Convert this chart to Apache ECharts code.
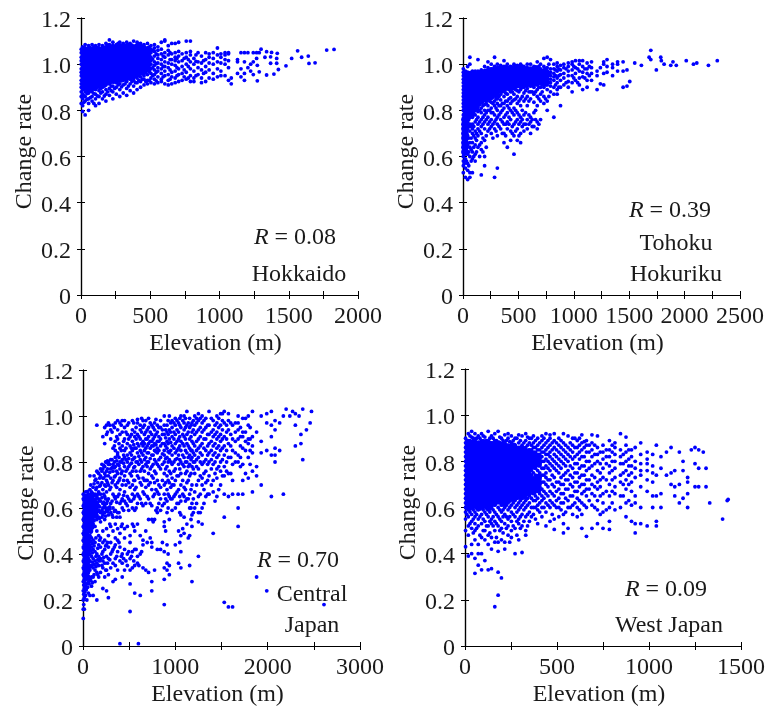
<!DOCTYPE html>
<html><head><meta charset="utf-8">
<style>html,body{margin:0;padding:0;background:#fff}#c{width:768px;height:708px}</style>
<script src="https://cdn.jsdelivr.net/npm/echarts@6/dist/echarts.min.js"></script>
</head><body><div id="c"></div>
<script>
// Each row: [elevation, change rate, change rate, ...].
// *Columns/*Extra: ordinary dots. *Core: larger marks that only fill the areas where the reference's dots
// overlap into solid blue; they approximate the shape of those areas and are not individual observations.
const hokkaidoColumns=[
[2,.83,.86,.88,.9,.915,.93,.95,.965,.98,1,1.015,1.03,1.05,1.065],
[12,.795,.82,.85,.87,.89,.905,.925,.94,.96,.975,.99,1.01,1.025,1.04,1.06,1.075],
[30,.78,.84,.86,.88,.9,.915,.93,.95,.97,.985,1,1.02,1.035,1.05,1.07,1.085],
[55,.8,.83,.85,.875,.89,.91,.925,.945,.96,.98,.995,1.01,1.03,1.045,1.06,1.08],
[80,.84,.86,.88,.9,.92,.935,.95,.97,.985,1,1.02,1.035,1.05,1.065,1.085],
[105,.82,.85,.87,.89,.91,.93,.945,.96,.98,.995,1.01,1.03,1.045,1.06,1.08],
[130,.83,.86,.885,.905,.925,.94,.955,.97,.99,1.005,1.02,1.04,1.055,1.07,1.085],
[155,.85,.88,.9,.92,.935,.95,.965,.98,1,1.015,1.03,1.05,1.065,1.08],
[180,.84,.87,.89,.91,.93,.945,.96,.975,.99,1.01,1.025,1.04,1.06,1.075,1.09],
[205,.865,.895,.915,.935,.95,.97,.985,1,1.02,1.035,1.05,1.07,1.085,1.105],
[230,.85,.88,.905,.925,.945,.96,.975,.99,1.01,1.025,1.04,1.06,1.08,1.095],
[255,.87,.9,.92,.94,.955,.97,.985,1,1.015,1.03,1.05,1.065,1.085],
[280,.86,.89,.915,.935,.95,.965,.98,.995,1.01,1.03,1.045,1.06,1.08,1.095],
[305,.875,.91,.93,.945,.96,.98,.995,1.01,1.025,1.04,1.055,1.07,1.09],
[330,.865,.895,.925,.94,.955,.97,.99,1.005,1.02,1.035,1.05,1.065,1.08,1.095],
[355,.885,.915,.935,.95,.97,.985,1,1.015,1.03,1.045,1.06,1.075,1.09],
[380,.875,.905,.93,.945,.96,.98,.995,1.01,1.025,1.04,1.055,1.07,1.1],
[405,.89,.92,.94,.955,.975,.99,1.005,1.02,1.035,1.05,1.065,1.08,1.095],
[430,.9,.925,.945,.965,.98,.995,1.01,1.03,1.045,1.06,1.075,1.09],
[455,.91,.935,.95,.97,.985,1,1.02,1.035,1.05,1.065,1.085],
[480,.915,.93,.955,.975,.99,1.01,1.025,1.04,1.055,1.07,1.09],
[505,.92,.94,.96,.98,1,1.015,1.03,1.05,1.065,1.08],
[530,.915,.935,.955,.975,.995,1.01,1.035,1.055,1.07,1.085],
[555,.92,.945,.97,.985,1.005,1.025,1.04,1.06,1.075],
[580,.925,.935,.96,.98,1,1.02,1.045,1.065,1.095],
[605,.915,.95,.97,.99,1.01,1.03,1.05,1.1,1.105],
[630,.91,.93,.955,.985,1.005,1.04,1.06,1.08],
[655,.915,.945,.965,1,1.02,1.045,1.09],
[680,.92,.94,.97,.995,1.015,1.05,1.03,1.09],
[705,.925,.955,.98,1.01,1.035,1.055,1.095],
[730,.93,.96,.99,1.015,1.045],
[760,.935,.965,1,1.03,1.05,1.1],
[790,.925,.95,.98,1.01,1.04,1.055,1.1],
[815,.925,.94,.97,1,1.025],
[845,.955,.985,1.01,1.05],
[870,.92,.94,.975,1.005,1.035],
[900,.925,.965,.99,1.02,1.05],
[925,.94,.975,1.005,1.03,1.045],
[955,.935,.96,1,1.025,1.05],
[985,.945,.98,1.01,1.04,1.07],
[1010,.95,.97,1.005,1.03,1.045],
[1040,.95,1,1.02,1.04,1.05],
[1065,.93,.985,1.015,1.045,1.05],
[1085,.915,.94],
[1130,.96,1.01,1.02],
[1155,.945,.98,1.05],
[1180,.93,.96,1.01,1.05],
[1205,.985,1.05],
[1225,.97,1],
[1244,.955,1.01,1.05],
[1268,1.025,1.05],
[1273,.928,.995],
[1287,.967,1.05],
[1300,1.065],[1328,1.03],[1340,.953,1.054],[1369,1.004,1.032],[1376,1.051],[1393,.957],[1413,1.004,1.025],[1417,1.047],[1425,.977],[1480,.993],[1521,1.025],[1564,1.058],[1593,1.03],[1641,1.035],[1646,1.003],[1690,1.006],[1774,1.061],[1827,1.064]
];
const hokkaidoExtra=[
[21,.835,.862,.895,.92,.943,.972,.993,1.018,1.042,1.068],
[43,.848,.872,.898,.922,.957,.978,1.008,1.028,1.056],
[67,.855,.888,.915,.938,.965,.988,1.022,1.052,1.072],
[93,.83,.872,.895,.928,.96,.992,1.012,1.042,1.075],
[118,.862,.9,.92,.95,.975,1.002,1.025,1.05,1.072],
[143,.875,.895,.93,.962,.985,1.012,1.035,1.062],
[168,.862,.905,.94,.958,.99,1.022,1.045,1.07],
[193,.88,.925,.955,.982,1.005,1.032,1.052,1.082],
[218,.885,.905,.942,.962,.992,1.012,1.045,1.078],
[243,.895,.935,.968,.995,1.022,1.052,1.072],
[268,.91,.948,.975,1.008,1.038,1.058,1.09],
[293,.902,.928,.958,.988,1.018,1.05,1.072],
[318,.915,.952,.985,1.012,1.045,1.075],
[343,.905,.945,.962,.995,1.028,1.056,1.085],
[368,.925,.958,.992,1.022,1.052,1.082],
[393,.92,.952,.985,1.015,1.048,1.078],
[418,.93,.965,.998,1.028,1.058,1.088],
[443,.935,.958,.99,1.022,1.052,1.07],
[468,.925,.962,.995,1.03,1.06],
[493,.93,.968,1.005,1.035,1.075],
[518,.95,.985,1.022,1.06],
[543,.928,.965,1.002,1.045],
[593,.945,.99,1.035],
[643,.935,.975,1.02,1.05],
[693,.95,.985,1.025],
[745,.945,.975,1.025],
[775,.94,.99,1.02],
[830,.95,1.012,1.04],
[885,.96,1.015]
];
const hokkaidoCore=[
[25,.9,.92,.94,.96,.98,1,1.02,1.04,1.06],
[60,.89,.91,.935,.955,.98,1,1.02,1.04,1.06],
[95,.9,.92,.94,.96,.98,1,1.02,1.04,1.06],
[130,.91,.93,.955,.975,.995,1.02,1.04,1.06],
[165,.915,.94,.96,.98,1,1.02,1.04,1.065],
[200,.925,.945,.965,.985,1.005,1.025,1.045,1.07],
[235,.93,.95,.97,.99,1.01,1.03,1.05,1.07],
[270,.935,.955,.975,.995,1.015,1.035,1.055,1.07],
[305,.94,.96,.98,1,1.02,1.04,1.06,1.075],
[340,.945,.965,.985,1.005,1.025,1.045,1.065],
[375,.95,.97,.99,1.01,1.03,1.05,1.07],
[410,.96,.98,1,1.02,1.04,1.06,1.075],
[445,.97,.99,1.01,1.03,1.05,1.07],
[480,.98,1,1.02,1.04,1.06]
];
const tohokuColumns=[
[3,.53,.56,.58,.6,.62,.64,.66,.68,.7,.72,.74,.76,.78,.8,.815,.83,.845,.86,.875,.89,.905,.92,.935,.95,.965,.98],
[22,.51,.55,.59,.63,.67,.7,.73,.75,.77,.79,.805,.82,.835,.85,.865,.88,.895,.91,.925,.94,.955,.97],
[42,.5,.54,.57,.61,.65,.69,.72,.75,.78,.8,.815,.83,.845,.86,.875,.89,.905,.92,.935,.95,.965,.99],
[62,.51,.53,.6,.64,.66,.71,.74,.77,.79,.81,.825,.84,.855,.87,.885,.9,.915,.93,.945,.96,1.0,1.03],
[85,.53,.59,.62,.66,.7,.72,.74,.77,.8,.815,.83,.845,.86,.875,.89,.905,.92,.935,.95,.97],
[110,.58,.61,.65,.68,.71,.75,.78,.8,.82,.835,.85,.865,.88,.895,.91,.925,.94,.955,.97],
[135,.64,.69,.72,.74,.77,.795,.815,.83,.85,.865,.88,.895,.91,.925,.94,.955,.97,1.02],
[165,.52,.63,.66,.7,.73,.76,.79,.81,.835,.85,.87,.885,.9,.915,.93,.945,.96,.975],
[195,.6,.56,.67,.72,.75,.78,.8,.825,.845,.865,.88,.895,.91,.925,.94,.955,.97,.99],
[225,.71,.74,.77,.8,.82,.845,.86,.88,.895,.91,.925,.94,.955,.97,.985,1.01],
[255,.7,.73,.76,.79,.81,.835,.855,.875,.89,.905,.92,.935,.95,.965,.98,1],
[285,.51,.72,.75,.78,.82,.84,.865,.88,.9,.915,.93,.945,.96,.975,.99,1.03],
[310,.55,.69,.74,.77,.8,.83,.85,.875,.895,.91,.925,.94,.955,.97,.985,1],
[340,.72,.76,.79,.82,.845,.87,.89,.905,.92,.935,.95,.965,.98,.995],
[370,.66,.7,.74,.77,.81,.83,.86,.885,.9,.915,.93,.945,.96,.975,.99,1.015],
[400,.64,.72,.75,.79,.82,.84,.87,.895,.91,.925,.94,.955,.97,.985,1],
[430,.67,.71,.76,.8,.83,.855,.88,.9,.915,.93,.945,.96,.975,.99],
[460,.61,.69,.74,.78,.81,.845,.87,.895,.91,.925,.94,.955,.97,.985,1],
[490,.67,.72,.76,.79,.83,.86,.885,.905,.92,.935,.95,.965,.98,.995],
[520,.66,.7,.75,.77,.82,.85,.89,.91,.925,.94,.955,.97,.985,1],
[550,.71,.74,.78,.84,.875,.9,.915,.93,.945,.96,.975,.99],
[580,.72,.76,.82,.86,.895,.91,.925,.94,.955,.97,.985,1],
[610,.7,.75,.77,.85,.88,.905,.92,.935,.95,.965,.98,1],
[640,.73,.79,.835,.87,.9,.915,.93,.945,.96,.975,.99],
[670,.72,.75,.82,.86,.89,.91,.925,.94,.955,.97,.985,1.01],
[700,.76,.84,.87,.9,.92,.935,.95,.965,.98,1],
[730,.83,.86,.9,.915,.93,.945,.96,.975,.99,1.025],
[760,.8,.84,.89,.91,.925,.94,.955,.97,.985,1.03],
[790,.88,.905,.92,.935,.95,.965,.98,1.02],
[820,.77,.87,.9,.93,.945,.96,.98,1],
[850,.87,.89,.92,.94,.97,.99,1.005],
[880,.82,.9,.93,.955,.975,.995],
[910,.91,.94,.96,.985,1],
[950,.9,.925,.95,.97,.99,1.005],
[985,.88,.92,.95,.975,1,1.01],
[1015,.93,.96,.985,1.015],
[1050,.91,.94,.97,1,1.015],
[1080,.89,.945,.965,.99,1.015],
[1120,.9,.93,.96,.98,1.005],
[1160,.93,.96,.985,1.01],
[1210,.89,.95,.97],
[1240,.915,.985],
[1270,.91,.96,1,1.01],
[1300,.965,.99,1.02],
[1350,.95,.985,1],
[1395,.97,1,1.01],
[1445,.9,.97,1.01],
[1480,.905,.975],
[1505,.925],[1550,1.005],[1610,.995],[1680,1.03],[1695,1.06,1.02],[1745,.975],[1785,1.03],[1790,1.015],[1815,1],[1875,.995],[1895,1.01],[1925,.995],[2015,1.015],[2080,1],[2110,1.005],[2215,.995],[2295,1.015]
];
const tohokuExtra=[
[12,.57,.61,.65,.69,.71,.75,.785,.81,.84,.87,.9,.93,.96],
[32,.58,.62,.66,.71,.74,.79,.825,.855,.885,.915,.945],
[52,.56,.62,.68,.73,.76,.805,.835,.865,.895,.925,.955],
[74,.58,.63,.68,.73,.78,.82,.85,.88,.91,.94],
[97,.6,.64,.69,.73,.79,.825,.855,.885,.915,.945,.965],
[122,.62,.67,.7,.76,.805,.84,.87,.9,.93,.96],
[150,.6,.65,.71,.75,.8,.825,.86,.89,.92,.95],
[180,.62,.68,.74,.77,.82,.85,.88,.91,.94],
[210,.64,.69,.76,.79,.83,.87,.9,.93,.96],
[240,.72,.75,.8,.84,.875,.905,.935,.965],
[270,.68,.74,.79,.83,.86,.89,.92,.95,.98],
[298,.71,.76,.81,.85,.885,.91,.94,.97],
[325,.73,.78,.82,.86,.89,.925,.955,.985],
[355,.7,.75,.8,.83,.88,.915,.945,.975],
[385,.69,.74,.78,.84,.875,.91,.94,.97],
[415,.74,.77,.81,.85,.89,.92,.95,.98],
[445,.7,.73,.79,.84,.88,.91,.94,.97],
[475,.71,.75,.8,.85,.89,.915,.945,.975],
[505,.69,.74,.78,.84,.88,.92,.95,.98],
[535,.73,.76,.8,.86,.9,.93,.96,.99],
[565,.74,.79,.85,.885,.92,.95,.98],
[595,.74,.78,.84,.88,.915,.945,.975],
[625,.73,.76,.88,.91,.94,.97],
[655,.76,.8,.88,.915,.945,.975],
[685,.74,.85,.9,.93,.96,.99],
[715,.88,.91,.94,.97],
[745,.85,.91,.95,.98],
[775,.86,.92,.96,1],
[835,.91,.95,.975],
[865,.9,.95,.98],
[930,.92,.98],[1000,.94,.99],[1035,.92,.98],[1100,.94,.98],[1140,.95,.99]
];
const tohokuCore=[
[18,.62,.64,.66,.68,.7,.72,.74,.76],
[30,.78,.8,.82,.84,.86,.88,.9,.92,.94,.955],
[70,.78,.8,.82,.84,.86,.88,.9,.92,.94,.955],
[115,.81,.83,.85,.87,.89,.91,.93,.95],
[160,.84,.86,.88,.9,.92,.94,.96],
[205,.85,.87,.89,.91,.93,.95,.965],
[250,.86,.88,.9,.92,.94,.96,.97],
[295,.87,.89,.91,.93,.95,.97],
[340,.89,.91,.93,.95,.97,.98],
[385,.9,.92,.94,.96,.98],
[430,.9,.92,.94,.96,.98],
[475,.91,.93,.95,.97,.985],
[520,.91,.93,.95,.97,.985],
[565,.915,.935,.955,.975],
[610,.915,.935,.955,.975],
[655,.92,.94,.96,.98],
[700,.925,.945,.965],
[745,.93,.95,.965]
];
const centralColumns=[
[3,.12,.16,.2,.24,.28,.31,.34,.37,.4,.43,.46,.49,.52,.55,.58,.61,.64,.66],
[14,.16,.21,.25,.29,.32,.35,.38,.41,.44,.47,.5,.53,.56,.59,.62,.65],
[28,.22,.26,.29,.33,.36,.39,.42,.45,.48,.51,.54,.57,.6,.63,.67],
[42,.2,.27,.31,.34,.37,.4,.43,.46,.49,.52,.55,.58,.61,.64],
[58,.23,.28,.32,.35,.38,.41,.44,.47,.5,.53,.56,.59,.62,.66],
[75,.22,.29,.33,.37,.4,.44,.48,.51,.55,.58,.6,.63,.68,.74],
[92,.26,.3,.35,.39,.43,.47,.5,.54,.57,.6,.62,.65,.67],
[110,.22,.3,.34,.38,.42,.46,.53,.56,.59,.61,.64,.69],
[130,.28,.33,.37,.41,.45,.52,.58,.6,.63,.66,.72],
[150,.2,.32,.36,.4,.5,.55,.57,.6,.62,.65,.69,.76,.96],
[170,.3,.35,.39,.44,.48,.56,.59,.61,.64,.67,.75],
[190,.32,.38,.43,.47,.54,.58,.63,.66,.7,.74,.77],
[215,.25,.34,.37,.41,.45,.5,.57,.6,.62,.68,.73,.77,.91],
[235,.3,.36,.42,.46,.55,.58,.61,.65,.7,.75,.78,.88,.95],
[255,.24,.33,.39,.44,.51,.59,.62,.67,.72,.76,.8,.92,.96],
[275,.21,.31,.38,.43,.48,.57,.6,.64,.7,.74,.79,.8,.97],
[300,.34,.4,.45,.52,.58,.62,.69,.73,.77,.81,.9,.94],
[325,.28,.36,.42,.5,.56,.6,.66,.72,.76,.79,.86,.96],
[350,.29,.35,.38,.44,.47,.53,.59,.64,.7,.74,.78,.82,.85,.89,.97],
[375,.33,.41,.46,.51,.58,.65,.71,.75,.79,.83,.84,.9,.94,.98],
[400,.37,.43,.49,.56,.62,.68,.73,.77,.8,.86,.92,.97],
[425,.3,.36,.4,.53,.6,.64,.7,.76,.81,.87,.93,.98],
[450,.33,.42,.47,.51,.63,.67,.74,.78,.82,.85,.9,.95,.98],
[480,.35,.4,.52,.61,.65,.72,.77,.8,.83,.88,.92,.96],
[510,.15,.27,.33,.38,.45,.48,.63,.69,.75,.79,.84,.87,.91],
[535,.34,.41,.53,.6,.66,.7,.76,.81,.85,.89,.94,.98],
[560,.23,.35,.42,.5,.59,.65,.68,.72,.78,.82,.86,.91,.93],
[590,.36,.39,.53,.62,.66,.74,.8,.84,.88,.92,.97,.985],
[620,.22,.4,.48,.64,.71,.76,.81,.85,.9,.94,.96],
[650,.34,.44,.46,.61,.67,.73,.78,.83,.87,.89,.95,.98],
[680,.33,.5,.62,.69,.72,.79,.82,.86,.9,.93,.98],
[710,.32,.55,.64,.7,.75,.8,.84,.88,.91,.95,.99],
[745,.24,.28,.43,.45,.55,.61,.68,.74,.78,.83,.87,.89,.92,.96],
[775,.33,.55,.66,.71,.76,.81,.85,.88,.91,.94,.97],
[805,.42,.58,.6,.67,.72,.79,.84,.86,.89,.93,.96],
[840,.42,.59,.64,.69,.77,.82,.87,.9,.95,.98],
[880,.18,.34,.29,.41,.52,.54,.62,.66,.7,.75,.8,.83,.85,.88,.92,.96,1],
[910,.33,.36,.44,.58,.63,.68,.74,.78,.82,.86,.89,.93,.96],
[935,.31,.35,.55,.65,.71,.76,.81,.84,.9,.94,1],
[965,.59,.64,.7,.73,.79,.83,.87,.91,.95,.98],
[1000,.44,.6,.66,.72,.77,.81,.84,.88,.92,.96,.99],
[1035,.36,.5,.62,.68,.74,.79,.83,.86,.9,.93,.97],
[1060,.34,.41,.48,.57,.63,.7,.75,.8,.85,.89,.95,1],
[1095,.49,.56,.65,.69,.78,.82,.87,.91,.94,.97,1],
[1125,.53,.64,.71,.76,.8,.84,.88,.92,.96,1.02],
[1155,.35,.48,.6,.66,.74,.79,.83,.86,.9,.95,.99],
[1180,.28,.52,.57,.62,.7,.78,.82,.85,.89,.93,.97],
[1210,.6,.67,.75,.8,.83,.87,.92,.96,1],
[1250,.39,.54,.58,.65,.72,.77,.82,.86,.9,.94,.98,1.01],
[1290,.53,.6,.7,.73,.79,.83,.88,.93,.97,1],
[1330,.65,.71,.76,.81,.85,.9,.95,.99],
[1365,.66,.74,.8,.84,.88,.92,.96,1.02],
[1410,.49,.67,.72,.79,.83,.87,.91,.94,.98],
[1450,.65,.73,.77,.82,.86,.9,.93,.97,1],
[1490,.7,.76,.8,.85,.89,.92,.96,1.01],
[1530,.19,.56,.66,.74,.78,.83,.87,.91,.97,1.02],
[1575,.17,.65,.75,.82,.88,.94,.98,1.01],
[1620,.17,.66,.72,.79,.85,.9,.96],
[1680,.6,.52,.66,.8,.83,.9,.94,.97,1],
[1730,.66,.72,.79,.86,.91,.93,.99],
[1790,.73,.82,.88,.9,.96,1],
[1835,.67,.76,.84,.87,.91,1.02],
[1880,.3,.74,.78,.93],
[1930,.7,.84,.89,1],
[1990,.24,.85,.97,1.01],
[2040,.65,.83,.96,.91,1.02],
[2080,.8,.83,.86,.94,.98],
[2130,.85,.97],[2170,.66,1],[2200,1.03],[2240,1],[2270,1.02],[2300,.87,.96,1.01],[2340,1],[2360,.88,.92],[2380,.81,1.03],[2420,.94],[2460,.97],[2475,1.02],[2610,.18],
[400,.01],[600,.01]
];
const centralExtra=[
[8,.18,.225,.265,.305,.335,.365,.395,.425,.455,.485,.515,.545,.575,.605,.635],
[21,.235,.275,.315,.345,.375,.405,.435,.465,.495,.525,.555,.585,.615,.645],
[35,.245,.305,.355,.385,.415,.445,.475,.505,.535,.565,.595,.625,.655],
[50,.255,.3,.345,.395,.425,.455,.515,.575,.605,.635,.672],
[66,.27,.335,.365,.425,.465,.525,.565,.615,.645],
[84,.285,.345,.415,.455,.495,.535,.585,.625,.66,.7],
[101,.275,.365,.405,.445,.515,.575,.605,.635,.665],
[120,.31,.355,.435,.545,.595,.625,.655,.705,.74],
[140,.345,.39,.47,.565,.605,.64,.68,.725],
[160,.31,.375,.425,.585,.625,.66,.71,.755],
[180,.37,.46,.555,.605,.635,.695,.73],
[205,.35,.4,.56,.59,.645,.71,.76,.79],
[225,.385,.58,.625,.66,.73,.785],
[245,.33,.435,.565,.6,.64,.695,.74,.8],
[265,.36,.45,.585,.63,.71,.77,.805,.93],
[290,.375,.53,.595,.605,.68,.755,.79,.96],
[315,.41,.57,.63,.71,.775,.81,.93],
[340,.43,.585,.65,.735,.775,.8,.87,.95],
[365,.39,.56,.625,.69,.76,.805,.91],
[390,.45,.58,.66,.72,.785,.82,.88],
[415,.39,.52,.63,.75,.8,.85,.96],
[440,.38,.59,.655,.72,.795,.83,.89],
[465,.37,.62,.7,.76,.81,.86,.93],
[495,.41,.59,.64,.71,.78,.815,.9,.97],
[525,.39,.63,.74,.795,.83,.86,.92],
[550,.37,.52,.64,.72,.775,.815,.875,.97],
[575,.42,.6,.69,.76,.8,.86,.9,.95],
[605,.35,.65,.73,.79,.825,.87,.91],
[635,.41,.62,.7,.77,.8,.84,.88,.93,.99],
[665,.66,.72,.76,.81,.85,.88,.92,.96],
[695,.45,.65,.72,.78,.8,.84,.87,.9,.94],
[728,.47,.62,.71,.77,.815,.86,.89,.93,.97],
[760,.54,.65,.73,.79,.83,.87,.9,.95],
[790,.59,.68,.75,.8,.845,.875,.92,.985],
[822,.62,.66,.7,.78,.81,.85,.89,.91,.95],
[860,.45,.61,.72,.79,.835,.88,.92,.94],
[895,.5,.64,.71,.77,.815,.87,.905,.94],
[922,.4,.6,.66,.72,.8,.845,.88,.92,.98],
[950,.64,.69,.75,.8,.85,.885,.93,.97],
[985,.65,.7,.76,.8,.86,.9,.93,.97],
[1018,.62,.67,.74,.815,.85,.89,.94,.98],
[1048,.45,.58,.65,.77,.81,.87,.91,.96,.99],
[1080,.51,.66,.72,.79,.83,.88,.92,.98],
[1110,.63,.68,.75,.8,.85,.9,.95,.99],
[1140,.47,.64,.72,.78,.82,.87,.93,.97],
[1170,.55,.6,.68,.75,.81,.85,.91,.96],
[1195,.58,.64,.77,.8,.84,.88,.94,.98],
[1230,.62,.7,.78,.81,.85,.89,.93,.97,.99],
[1270,.58,.66,.74,.8,.84,.87,.91,.95,.99],
[1310,.62,.68,.75,.8,.86,.9,.94,.98],
[1350,.66,.72,.79,.83,.87,.92,.96],
[1390,.7,.77,.81,.85,.89,.93,.99],
[1430,.63,.75,.8,.84,.88,.92,.96],
[1470,.68,.78,.83,.87,.91,.95,.99],
[1510,.74,.81,.86,.9,.94,.98,1.01],
[1555,.76,.8,.85,.9,.93,.96],
[1600,.75,.82,.87,.92,.97],
[1650,.8,.84,.89,.93,.97],
[1705,.78,.82,.87,.91,.95],
[1760,.75,.85,.89,.93,.99],
[1810,.79,.85,.9,.95]
];
const centralCore=[
[38,.3,.325,.35,.375,.4,.425,.45,.475,.5,.525,.55,.575,.6,.625,.64],
[85,.52,.545,.57,.595,.62,.64],
[125,.57,.6,.62]
];
const westColumns=[
[3,.43,.5,.55,.58,.6,.62,.64,.66,.68,.7,.72,.74,.76,.78,.8,.82,.84,.86,.88,.9],
[18,.39,.48,.52,.56,.59,.61,.63,.65,.67,.69,.71,.73,.75,.77,.79,.81,.83,.85,.87,.89,.92],
[36,.4,.44,.51,.54,.57,.6,.62,.64,.66,.68,.7,.72,.74,.76,.78,.8,.82,.84,.86,.88,.905,.93],
[54,.315,.38,.46,.5,.53,.56,.58,.61,.63,.65,.67,.69,.71,.73,.75,.77,.79,.81,.83,.85,.87,.89,.92],
[72,.35,.4,.44,.52,.55,.59,.62,.64,.66,.68,.7,.72,.74,.76,.78,.8,.82,.84,.86,.88,.91],
[90,.33,.4,.47,.53,.57,.6,.63,.65,.67,.69,.71,.73,.75,.77,.79,.81,.83,.85,.87,.89,.92],
[108,.37,.46,.5,.54,.58,.61,.64,.66,.68,.7,.72,.74,.76,.78,.8,.82,.84,.86,.88,.905],
[126,.33,.44,.48,.52,.56,.59,.62,.65,.67,.69,.71,.73,.75,.77,.79,.81,.83,.85,.87,.89,.93],
[144,.335,.42,.47,.53,.55,.6,.63,.66,.68,.7,.72,.74,.76,.78,.8,.82,.84,.86,.88,.91],
[162,.17,.45,.5,.54,.58,.61,.64,.67,.69,.71,.73,.75,.77,.79,.81,.83,.85,.87,.89,.92],
[180,.22,.32,.41,.45,.52,.56,.6,.63,.65,.68,.7,.72,.74,.76,.78,.8,.82,.84,.86,.88,.93],
[198,.295,.46,.51,.54,.58,.61,.64,.66,.69,.71,.73,.75,.77,.79,.81,.83,.85,.87,.9],
[216,.42,.45,.53,.57,.6,.63,.67,.7,.72,.74,.76,.78,.8,.82,.84,.86,.88,.915],
[234,.48,.52,.55,.59,.62,.65,.68,.71,.73,.75,.77,.79,.81,.83,.85,.87,.9,.92],
[252,.47,.5,.54,.58,.61,.64,.67,.7,.72,.74,.76,.78,.8,.82,.84,.86,.88,.91],
[272,.4,.51,.56,.6,.63,.66,.69,.71,.73,.75,.77,.79,.81,.83,.85,.87,.9],
[292,.46,.53,.55,.59,.62,.65,.68,.7,.72,.74,.76,.78,.8,.82,.84,.86,.88,.915],
[310,.405,.52,.57,.61,.64,.67,.69,.71,.73,.75,.77,.79,.81,.83,.85,.87,.91],
[330,.48,.5,.56,.6,.63,.66,.68,.7,.72,.74,.76,.78,.8,.82,.84,.86,.89,.92],
[350,.54,.58,.62,.65,.67,.69,.71,.73,.75,.77,.79,.81,.83,.85,.88,.9],
[372,.57,.6,.63,.66,.68,.7,.72,.75,.78,.8,.82,.84,.86,.88,.91],
[395,.53,.59,.61,.64,.67,.69,.73,.76,.79,.81,.83,.85,.87,.9],
[418,.56,.6,.63,.65,.68,.71,.74,.77,.8,.82,.84,.86,.89,.91],
[440,.52,.58,.62,.66,.7,.73,.75,.78,.81,.83,.85,.88,.92],
[462,.54,.6,.63,.67,.72,.76,.79,.82,.84,.87,.9,.915],
[485,.505,.55,.61,.65,.69,.73,.77,.8,.83,.86,.89,.92],
[510,.56,.6,.64,.68,.71,.75,.78,.81,.84,.87,.9],
[535,.49,.53,.57,.62,.66,.7,.74,.79,.82,.85,.88,.92],
[560,.51,.6,.63,.68,.72,.76,.8,.83,.86,.91],
[585,.57,.61,.65,.69,.73,.77,.81,.84,.87,.9],
[610,.56,.6,.64,.67,.71,.75,.79,.83,.86,.89],
[635,.51,.57,.62,.66,.7,.74,.78,.82,.85,.88,.915],
[660,.475,.6,.65,.68,.72,.76,.8,.84,.87,.89],
[690,.51,.61,.66,.7,.74,.78,.82,.85,.88,.915],
[720,.53,.59,.63,.68,.71,.76,.8,.83,.86,.91],
[750,.51,.58,.62,.66,.73,.77,.81,.84,.87],
[785,.505,.54,.6,.65,.7,.75,.78,.82,.85,.89],
[815,.59,.66,.69,.73,.77,.8,.83,.86,.88],
[845,.6,.65,.71,.74,.79,.82,.85,.92],
[875,.56,.62,.68,.72,.76,.8,.84,.87,.905],
[905,.54,.61,.67,.71,.75,.78,.82,.85],
[925,.49,.53,.62,.65,.73,.77,.8,.86],
[955,.53,.6,.69,.74,.76,.79,.83,.88],
[990,.52,.67,.72,.76,.79,.81,.84],
[1020,.6,.65,.71,.75,.78,.83],
[1040,.52,.54,.65,.74,.87],
[1065,.6,.66,.77,.82],
[1095,.74,.84],
[1120,.7,.75,.86],
[1140,.65,.69,.76],
[1165,.62,.7,.84],
[1185,.64,.76,.8],
[1210,.6,.66,.73,.71],
[1230,.85],[1250,.69,.79,.86],[1270,.69,.85,.77],[1295,.84],[1310,.69,.77],[1330,.62],[1400,.55],[1425,.63],[1430,.635]
];
const westExtra=[
[10,.57,.61,.63,.65,.67,.69,.71,.73,.75,.77,.79,.81,.83,.85,.87,.89],
[27,.53,.58,.61,.65,.67,.69,.71,.73,.75,.77,.79,.81,.83,.85,.87,.89,.91],
[45,.49,.55,.59,.63,.65,.67,.69,.71,.73,.75,.77,.79,.81,.83,.85,.87,.9],
[63,.51,.57,.6,.64,.66,.68,.7,.72,.74,.76,.78,.8,.82,.84,.86,.88,.9],
[81,.48,.56,.61,.63,.65,.67,.69,.71,.73,.75,.77,.79,.81,.83,.85,.87,.9],
[99,.5,.55,.59,.62,.66,.68,.7,.72,.74,.76,.78,.8,.82,.84,.86,.88,.91],
[117,.52,.57,.6,.63,.65,.67,.69,.71,.73,.75,.77,.79,.81,.83,.85,.87,.89],
[135,.49,.54,.58,.61,.64,.67,.69,.71,.73,.75,.77,.79,.81,.83,.85,.87,.9],
[153,.52,.56,.59,.62,.65,.68,.7,.72,.74,.76,.78,.8,.82,.84,.86,.88,.9],
[171,.47,.53,.57,.62,.66,.69,.71,.73,.75,.77,.79,.81,.83,.85,.87,.89],
[189,.5,.55,.59,.62,.67,.69,.71,.73,.75,.77,.79,.81,.83,.85,.87,.905],
[207,.49,.56,.59,.62,.65,.68,.7,.72,.74,.76,.78,.8,.82,.84,.86,.89],
[225,.51,.56,.61,.64,.66,.69,.73,.75,.77,.79,.81,.83,.85,.87,.89],
[243,.45,.56,.6,.63,.66,.69,.72,.74,.76,.78,.8,.82,.84,.86,.885],
[262,.52,.57,.62,.65,.68,.7,.72,.74,.76,.78,.8,.82,.84,.86,.89],
[282,.48,.54,.58,.61,.64,.67,.7,.72,.74,.76,.78,.8,.82,.84,.86,.9],
[301,.51,.56,.6,.63,.66,.68,.72,.74,.76,.78,.8,.82,.84,.86,.89],
[320,.54,.59,.62,.65,.68,.7,.72,.74,.76,.78,.8,.83,.85,.88],
[340,.52,.57,.61,.64,.66,.68,.7,.72,.74,.76,.78,.8,.82,.84,.87,.905],
[361,.56,.6,.64,.67,.69,.71,.74,.76,.79,.81,.83,.85,.87,.9],
[383,.55,.6,.63,.65,.68,.71,.74,.77,.79,.82,.84,.86,.89],
[406,.58,.62,.66,.69,.72,.75,.78,.8,.83,.85,.88],
[429,.6,.64,.67,.71,.74,.77,.8,.84,.87,.9],
[451,.61,.65,.69,.72,.77,.8,.83,.86,.89],
[474,.57,.62,.66,.7,.74,.78,.81,.85,.88],
[497,.6,.63,.67,.71,.76,.79,.82,.85,.88],
[522,.59,.62,.66,.7,.73,.77,.8,.83,.86,.89],
[547,.58,.64,.68,.72,.75,.78,.81,.84,.87],
[572,.6,.65,.7,.74,.78,.82,.85,.88],
[597,.62,.67,.71,.75,.79,.82,.86,.9],
[622,.59,.63,.69,.73,.77,.81,.84,.87,.9],
[648,.61,.67,.7,.74,.78,.82,.86,.885],
[675,.63,.68,.72,.77,.8,.84,.87],
[705,.6,.65,.69,.73,.79,.83,.87],
[735,.57,.65,.69,.72,.75,.79,.84],
[768,.59,.67,.72,.79,.82,.85],
[800,.62,.67,.72,.76,.8,.84,.87],
[860,.65,.7,.75,.79,.83],
[890,.63,.7,.74,.78,.81,.85]
];
const westCore=[
[20,.6,.625,.65,.675,.7,.725,.75,.775,.8,.825,.85,.875],
[47,.61,.635,.66,.685,.71,.735,.76,.785,.81,.835,.86,.88],
[74,.6,.625,.65,.675,.7,.725,.75,.775,.8,.825,.85,.875],
[101,.61,.635,.66,.685,.71,.735,.76,.785,.81,.835,.86,.88],
[128,.6,.625,.65,.675,.7,.725,.75,.775,.8,.825,.85,.875],
[155,.62,.645,.67,.695,.72,.745,.77,.795,.82,.845,.87],
[182,.63,.655,.68,.705,.73,.755,.78,.805,.83,.855,.875],
[209,.62,.645,.67,.695,.72,.745,.77,.795,.82,.845,.87],
[236,.635,.66,.685,.71,.735,.76,.785,.81,.835,.86],
[263,.64,.665,.69,.715,.74,.765,.79,.815,.84,.865],
[290,.65,.675,.7,.725,.75,.775,.8,.825,.85],
[317,.65,.675,.7,.725,.75,.775,.8,.825,.85],
[344,.665,.69,.715,.74,.765,.79,.815,.84],
[371,.67,.695,.72,.78,.805,.83],
[398,.68,.705,.73,.79,.815]
];
const xMaxes=[2000,2500,3000,1500];
const xIntervals=[500,500,1000,500];
const yTicks=[0,.2,.4,.6,.8,1,1.2];
const panelNames=['Hokkaido','Tohoku Hokuriku','Central Japan','West Japan'];
const allColumns=[hokkaidoColumns.concat(hokkaidoExtra),tohokuColumns.concat(tohokuExtra),centralColumns.concat(centralExtra),westColumns.concat(westExtra)];
const allCores=[hokkaidoCore,tohokuCore,centralCore,westCore];
const rValues=['0.08','0.39','0.70','0.09'];

const grids=[[81,18],[463,18],[83,370],[465,369]];
const notes=[
 [[295,238,'r',0],[299,275,'t','Hokkaido']],
 [[670,211,'r',1],[676,244,'t','Tohoku'],[676,275,'t','Hokuriku']],
 [[298,561,'r',2],[312,595,'t','Central'],[312,626,'t','Japan']],
 [[666,590,'r',3],[669,626,'t','West Japan']]
];
const font='"Liberation Serif","Times New Roman",serif';
const base={fontFamily:font,fontSize:24,color:'#1a1a1a'};
const option={animation:false,backgroundColor:'#fff',grid:[],xAxis:[],yAxis:[],series:[],graphic:[]};
const ln={lineStyle:{color:'#000',width:1.2}};
const pairs=rows=>rows.flatMap(([x,...ys])=>ys.map(y=>[x,y]));
allColumns.forEach((cols,i)=>{
  const [l,t]=grids[i];
  option.grid.push({left:l,top:t,width:277,height:277,containLabel:false});
  const minor={show:true,splitNumber:2,length:4,lineStyle:{color:'#000',width:1}};
  option.xAxis.push({type:'value',gridIndex:i,min:0,max:xMaxes[i],interval:xIntervals[i],position:'bottom',
    name:'Elevation (m)',nameLocation:'middle',nameGap:37,nameTextStyle:{...base,padding:[0,8,0,0]},
    axisLine:{show:true,...ln},axisTick:{inside:true,length:4,lineStyle:{color:'#000',width:1}},minorTick:minor,
    splitLine:{show:false},minorSplitLine:{show:false},axisLabel:{...base,margin:10,showMaxLabel:true,showMinLabel:true,hideOverlap:false,formatter:v=>String(v)}});
  option.xAxis.push({type:'value',gridIndex:i,min:0,max:xMaxes[i],interval:xIntervals[i],position:'top',
    axisLine:{show:true,...ln},axisTick:{inside:true,length:4,lineStyle:{color:'#000',width:1}},minorTick:minor,
    splitLine:{show:false},axisLabel:{show:false}});
  option.yAxis.push({type:'value',gridIndex:i,min:0,max:1.2,interval:.2,position:'left',
    name:'Change rate',nameLocation:'middle',nameGap:40,nameTextStyle:{...base,padding:[0,0,0,10]},
    axisLine:{show:true,...ln},axisTick:{inside:true,length:4,lineStyle:{color:'#000',width:1}},splitLine:{show:false},
    axisLabel:{...base,margin:10,verticalAlign:'top',lineHeight:6,formatter:v=>v===0?'0':v.toFixed(1)}});
  option.yAxis.push({type:'value',gridIndex:i,min:0,max:1.2,interval:.2,position:'right',
    axisLine:{show:true,...ln},axisTick:{inside:true,length:4,lineStyle:{color:'#000',width:1}},splitLine:{show:false},axisLabel:{show:false}});
  option.series.push({type:'scatter',name:panelNames[i],xAxisIndex:i*2,yAxisIndex:i*2,clip:false,symbolSize:3.8,
    itemStyle:{color:'#0000ff',opacity:1},data:pairs(cols)});
  option.series.push({type:'scatter',name:panelNames[i]+' solid area',xAxisIndex:i*2,yAxisIndex:i*2,clip:false,symbolSize:7.5,
    itemStyle:{color:'#0000ff',opacity:1},data:pairs(allCores[i])});
  notes[i].forEach(([cx,cy,kind,v])=>{
    option.graphic.push({type:'text',x:cx,y:cy,z:20,style:kind==='r'
      ?{text:'{i|R} = '+rValues[v],font:'24px '+font,fill:'#1a1a1a',align:'center',verticalAlign:'middle',
        rich:{i:{fontStyle:'italic',fontSize:24,fontFamily:font,fill:'#1a1a1a'}}}
      :{text:v,font:'24px '+font,fill:'#1a1a1a',align:'center',verticalAlign:'middle'}});
  });
});
echarts.init(document.getElementById('c'),null,{renderer:'canvas'}).setOption(option);
</script></body></html>
